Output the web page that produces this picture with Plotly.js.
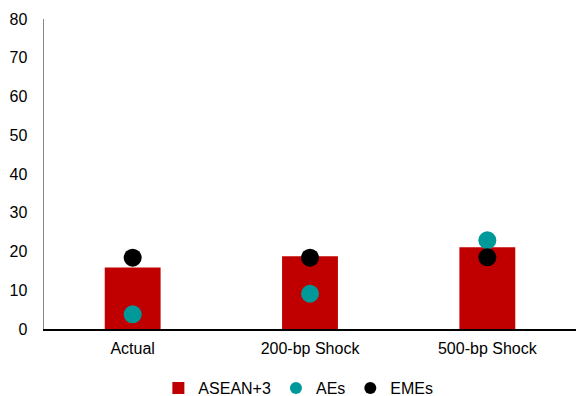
<!DOCTYPE html>
<html><head><meta charset="utf-8">
<script src="https://cdn.plot.ly/plotly-3.0.1.min.js"></script>
<style>body{margin:0;padding:0}#c{width:576px;height:396px}</style>
</head><body><div id="c"></div>
<script>
var categories = ["Actual", "200-bp Shock", "500-bp Shock"];
var asean3 = [15.9, 18.8, 21.1];
var aes = [3.8, 9.1, 22.9];
var emes = [18.4, 18.4, 18.5];

var traces = [
  {type:"bar", name:"ASEAN+3", x:categories, y:asean3, width:0.315,
   marker:{color:"#C00000"}},
  {type:"scatter", mode:"markers", name:"AEs", x:categories, y:aes,
   marker:{color:"#009999", size:18}},
  {type:"scatter", mode:"markers", name:"EMEs", x:categories, y:emes,
   marker:{color:"#000000", size:18}}
];
var layout = {
  width:576, height:396,
  margin:{l:44, r:0, t:19, b:67},
  paper_bgcolor:"#fff", plot_bgcolor:"#fff",
  font:{family:"Liberation Sans, Arial, sans-serif", size:16, color:"#000"},
  showlegend:true,
  legend:{orientation:"h", xref:"container", yref:"container", x:0.518, xanchor:"center",
          y:0.02, yanchor:"middle",
          font:{size:16}, itemwidth:30, itemsizing:"constant", tracegroupgap:0},
  xaxis:{type:"category", range:[-0.5,2.5], showline:true, linecolor:"#000", linewidth:1.5,
         ticks:"", showgrid:false, zeroline:false, tickfont:{size:16}, ticklabelstandoff:4},
  yaxis:{range:[0,80], dtick:10, showline:true, linecolor:"#888", linewidth:1.5,
         ticks:"", showgrid:false, zeroline:false, tickfont:{size:16}, ticklabelstandoff:12}
};
Plotly.newPlot("c", traces, layout, {displayModeBar:false, staticPlot:true});
</script></body></html>
